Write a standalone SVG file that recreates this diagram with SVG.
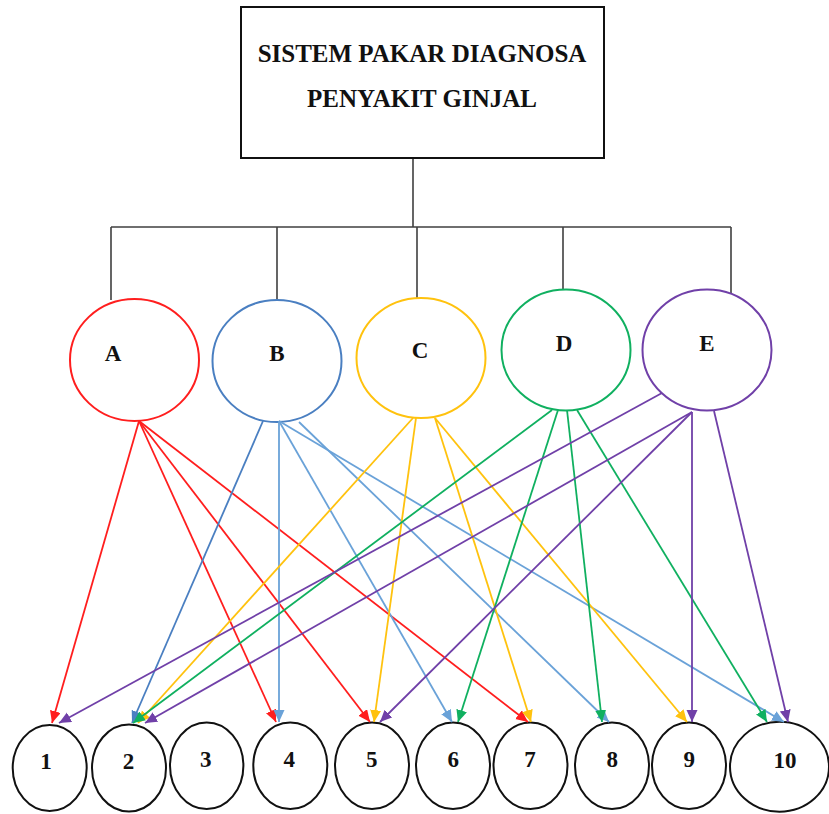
<svg xmlns="http://www.w3.org/2000/svg" width="829" height="814" viewBox="0 0 829 814">
<style>
.lbl{font-family:"Liberation Serif","Times New Roman",serif;font-weight:bold;font-size:23px;text-anchor:middle;fill:#111}
.ttl{font-family:"Liberation Serif","Times New Roman",serif;font-weight:bold;font-size:25px;text-anchor:middle;fill:#111}
.num{fill:#fff;stroke:#111;stroke-width:2}
.tree{fill:none;stroke:#404040;stroke-width:1.6}
.ar{fill:none;stroke-width:1.8}
.r{stroke:#ff1e1e}.bd{stroke:#4a7fc1}.bl{stroke:#6aa2d8}.y{stroke:#ffc20e}.g{stroke:#10b060}.p{stroke:#7040a8}
</style>
<defs>
<marker id="mr" markerUnits="userSpaceOnUse" markerWidth="14" markerHeight="12" refX="12" refY="5.5" orient="auto"><path d="M0,0L12,5.5L0,11z" fill="#ff1e1e"/></marker>
<marker id="mbd" markerUnits="userSpaceOnUse" markerWidth="14" markerHeight="12" refX="12" refY="5.5" orient="auto"><path d="M0,0L12,5.5L0,11z" fill="#4a7fc1"/></marker>
<marker id="mbl" markerUnits="userSpaceOnUse" markerWidth="14" markerHeight="12" refX="12" refY="5.5" orient="auto"><path d="M0,0L12,5.5L0,11z" fill="#6aa2d8"/></marker>
<marker id="my" markerUnits="userSpaceOnUse" markerWidth="14" markerHeight="12" refX="12" refY="5.5" orient="auto"><path d="M0,0L12,5.5L0,11z" fill="#ffc20e"/></marker>
<marker id="mg" markerUnits="userSpaceOnUse" markerWidth="14" markerHeight="12" refX="12" refY="5.5" orient="auto"><path d="M0,0L12,5.5L0,11z" fill="#10b060"/></marker>
<marker id="mp" markerUnits="userSpaceOnUse" markerWidth="14" markerHeight="12" refX="12" refY="5.5" orient="auto"><path d="M0,0L12,5.5L0,11z" fill="#7040a8"/></marker>
</defs>
<rect width="829" height="814" fill="#fff"/>

<g id="tree-connectors">
<path class="tree" d="M413,158V227M111,227H731M111,227V300M277,227V300M417,227V298M563,227V290M731,227V300"/>
</g>

<g id="root">
<rect x="241" y="7" width="363" height="151" fill="#fff" stroke="#111" stroke-width="2"/>
<text class="ttl" x="422" y="62">SISTEM PAKAR DIAGNOSA</text>
<text class="ttl" x="422" y="107">PENYAKIT GINJAL</text>
</g>

<g id="node-A"><ellipse cx="134.5" cy="360" rx="64.5" ry="61" fill="#fff" stroke="#ff1e1e" stroke-width="2"/><text class="lbl" x="113" y="361">A</text></g>
<g id="node-B"><ellipse cx="277" cy="361" rx="64.5" ry="61" fill="#fff" stroke="#4a7fc1" stroke-width="2"/><text class="lbl" x="277" y="361">B</text></g>
<g id="node-C"><ellipse cx="421" cy="358" rx="64.5" ry="60" fill="#fff" stroke="#ffc20e" stroke-width="2"/><text class="lbl" x="420" y="358">C</text></g>
<g id="node-D"><ellipse cx="566" cy="350" rx="64.5" ry="60.5" fill="#fff" stroke="#10b060" stroke-width="2"/><text class="lbl" x="564" y="351">D</text></g>
<g id="node-E"><ellipse cx="707" cy="350" rx="64.5" ry="60.5" fill="#fff" stroke="#7040a8" stroke-width="2"/><text class="lbl" x="707" y="351">E</text></g>

<g id="node-1"><ellipse class="num" cx="49.7" cy="768" rx="37" ry="43"/><text class="lbl" x="46" y="769">1</text></g>
<g id="node-2"><ellipse class="num" cx="129" cy="768" rx="37" ry="43.5"/><text class="lbl" x="128.5" y="769">2</text></g>
<g id="node-3"><ellipse class="num" cx="206.7" cy="765.7" rx="36.7" ry="43.3"/><text class="lbl" x="205.7" y="766.7">3</text></g>
<g id="node-4"><ellipse class="num" cx="290.3" cy="765.7" rx="37" ry="43.3"/><text class="lbl" x="289.3" y="766.7">4</text></g>
<g id="node-5"><ellipse class="num" cx="372" cy="765.7" rx="37" ry="43.3"/><text class="lbl" x="371.7" y="766.7">5</text></g>
<g id="node-6"><ellipse class="num" cx="453" cy="765.7" rx="37" ry="43.3"/><text class="lbl" x="453.3" y="766.7">6</text></g>
<g id="node-7"><ellipse class="num" cx="530.5" cy="765.7" rx="37" ry="43.3"/><text class="lbl" x="530" y="766.7">7</text></g>
<g id="node-8"><ellipse class="num" cx="612" cy="765.7" rx="37" ry="43.3"/><text class="lbl" x="612.3" y="766.7">8</text></g>
<g id="node-9"><ellipse class="num" cx="689" cy="765.7" rx="37" ry="43.3"/><text class="lbl" x="689.3" y="766.7">9</text></g>
<g id="node-10"><ellipse class="num" cx="779.5" cy="766.7" rx="49.5" ry="45"/><text class="lbl" x="785" y="767.7">10</text></g>

<g id="arrows">
<line class="ar r" x1="139" y1="421" x2="52" y2="723" marker-end="url(#mr)"/>
<line class="ar r" x1="139" y1="421" x2="276" y2="722" marker-end="url(#mr)"/>
<line class="ar r" x1="139" y1="421" x2="370" y2="722" marker-end="url(#mr)"/>
<line class="ar r" x1="139" y1="421" x2="528" y2="722" marker-end="url(#mr)"/>

<line class="ar bd" x1="263" y1="421" x2="132" y2="723" marker-end="url(#mbd)"/>
<line class="ar bl" x1="279" y1="421" x2="279" y2="722" marker-end="url(#mbl)"/>
<line class="ar bl" x1="279" y1="421" x2="452" y2="722" marker-end="url(#mbl)"/>
<line class="ar bl" x1="299" y1="422" x2="609" y2="722" marker-end="url(#mbl)"/>
<line class="ar bl" x1="279" y1="421" x2="784" y2="722" marker-end="url(#mbl)"/>

<line class="ar y" x1="413" y1="418" x2="138" y2="723" marker-end="url(#my)"/>
<line class="ar y" x1="416" y1="418" x2="374" y2="722" marker-end="url(#my)"/>
<line class="ar y" x1="435" y1="418" x2="531" y2="722" marker-end="url(#my)"/>
<line class="ar y" x1="435" y1="418" x2="687" y2="722" marker-end="url(#my)"/>

<line class="ar g" x1="552" y1="410" x2="133" y2="723" marker-end="url(#mg)"/>
<line class="ar g" x1="558" y1="410" x2="458" y2="722" marker-end="url(#mg)"/>
<line class="ar g" x1="567" y1="410" x2="602" y2="722" marker-end="url(#mg)"/>
<line class="ar g" x1="577" y1="410" x2="767" y2="722" marker-end="url(#mg)"/>

<line class="ar p" x1="662" y1="393" x2="59" y2="723" marker-end="url(#mp)"/>
<line class="ar p" x1="692" y1="412" x2="145" y2="723" marker-end="url(#mp)"/>
<line class="ar p" x1="692" y1="412" x2="380" y2="722" marker-end="url(#mp)"/>
<line class="ar p" x1="692" y1="412" x2="692" y2="722" marker-end="url(#mp)"/>
<line class="ar p" x1="714" y1="411" x2="788" y2="722" marker-end="url(#mp)"/>
</g>
</svg>
